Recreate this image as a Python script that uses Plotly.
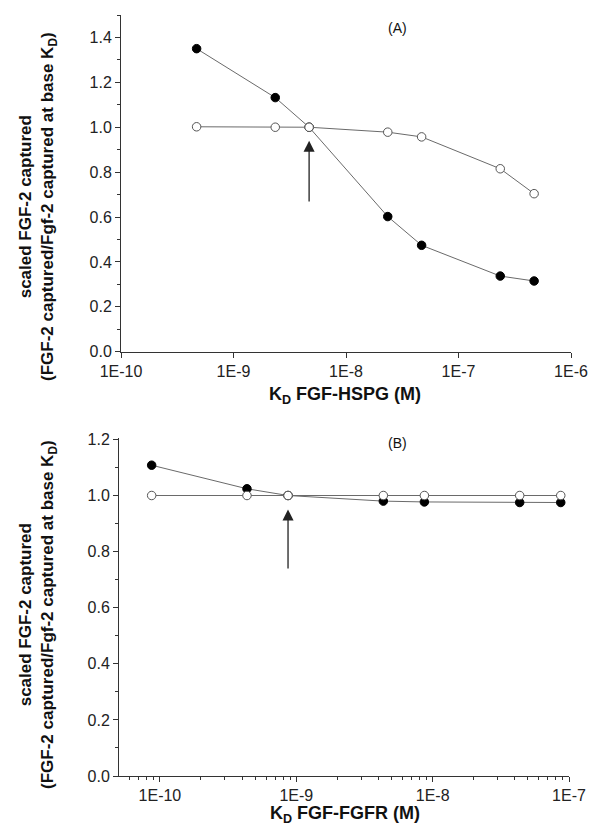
import numpy as np
import plotly.graph_objects as go

# ---------------- data ----------------
# Panel A: K_D FGF-HSPG (M)
kd_hspg = [4.7e-10, 2.35e-9, 4.7e-9, 2.35e-8, 4.7e-8, 2.35e-7, 4.7e-7]
a_filled = [1.35, 1.132, 1.0, 0.602, 0.474, 0.337, 0.315]
a_open = [1.002, 1.0, 1.0, 0.978, 0.957, 0.815, 0.704]

# Panel B: K_D FGF-FGFR (M)
kd_fgfr = [8.7e-11, 4.35e-10, 8.7e-10, 4.35e-9, 8.7e-9, 4.35e-8, 8.7e-8]
b_filled = [1.108, 1.024, 1.0, 0.980, 0.977, 0.975, 0.975]
b_open = [1.0, 1.0, 1.0, 1.0, 1.0, 1.0, 1.0]

base_index = 2  # base K_D (arrow)

a_xtickvals = [1e-10, 1e-9, 1e-8, 1e-7, 1e-6]
a_xticktext = ["1E-10", "1E-9", "1E-8", "1E-7", "1E-6"]
b_xtickvals = [1e-10, 1e-9, 1e-8, 1e-7]
b_xticktext = ["1E-10", "1E-9", "1E-8", "1E-7"]

# arrow extents (data units)
a_arrow = (0.663, 0.94)
b_arrow = (0.734, 0.95)

FONT = "Arial, Liberation Sans, sans-serif"
W, H = 592, 837
LINE = "#6a6a6a"

fig = go.Figure()

def add_series(x, y, filled, xa, ya):
    fig.add_trace(go.Scatter(
        x=x, y=y, mode="lines+markers", xaxis=xa, yaxis=ya,
        line=dict(color=LINE, width=1),
        marker=dict(size=8.5, symbol="circle",
                    color="black" if filled else "white",
                    line=dict(color="black" if filled else "#555555", width=1)),
        showlegend=False, hoverinfo="skip"))

add_series(kd_hspg, a_filled, True, "x", "y")
add_series(kd_hspg, a_open, False, "x", "y")
add_series(kd_fgfr, b_filled, True, "x2", "y2")
add_series(kd_fgfr, b_open, False, "x2", "y2")

def px_x(p):
    return p / W

def px_y(p):
    return 1 - p / H

axis_common = dict(showline=True, linecolor="#333333", linewidth=1, mirror=False,
                   showgrid=False, zeroline=False, ticks="outside", ticklen=5,
                   tickwidth=1, tickcolor="#333333", automargin=False,
                   tickfont=dict(family=FONT, size=16, color="#222222"))

yminor = dict(ticks="outside", ticklen=3, dtick=0.1, tickcolor="#333333", showgrid=False)

fig.update_layout(
    template="none",
    width=W, height=H, margin=dict(l=0, r=0, t=0, b=0, autoexpand=False),
    paper_bgcolor="white", plot_bgcolor="white",
    xaxis=dict(type="log", range=[-10, -6], domain=[px_x(121), px_x(571)],
               anchor="y", tickmode="array", tickvals=a_xtickvals, ticktext=a_xticktext,
               **axis_common),
    yaxis=dict(range=[0, 1.5], domain=[px_y(351.7), px_y(15)], anchor="x",
               tickmode="linear", tick0=0, dtick=0.2, tickformat=".1f",
               minor=yminor, **axis_common),
    xaxis2=dict(type="log", range=[-10.30, -7.0], domain=[px_x(119), px_x(569)],
                anchor="y2", tickmode="array", tickvals=b_xtickvals, ticktext=b_xticktext,
                minor=dict(ticks="outside", ticklen=3, tickcolor="#333333", dtick="D1",
                           showgrid=False),
                **axis_common),
    yaxis2=dict(range=[0, 1.205], domain=[px_y(776), px_y(438)], anchor="x2",
                tickmode="linear", tick0=0, dtick=0.2, tickformat=".1f",
                minor=yminor, **axis_common),
)

# arrows pointing to base K_D
for xr, yr, kd, (lo, hi) in [("x", "y", kd_hspg, a_arrow), ("x2", "y2", kd_fgfr, b_arrow)]:
    lx = float(np.log10(kd[base_index]))
    fig.add_annotation(x=lx, y=hi, ax=lx, ay=lo, xref=xr, yref=yr, axref=xr, ayref=yr,
                       showarrow=True, arrowhead=2, arrowsize=1.7, arrowwidth=1.3,
                       arrowcolor="#222222", text="")

def label(x, y, text, size, angle=0):
    fig.add_annotation(x=px_x(x), y=px_y(y), xref="paper", yref="paper", text=text,
                       xanchor="center", yanchor="middle", textangle=angle,
                       showarrow=False, font=dict(family=FONT, size=size, color="#111111"))

# panel labels
label(397, 28, "(A)", 14)
label(397, 443, "(B)", 14)

# x axis titles
label(345, 395, "<b>K<sub>D</sub> FGF-HSPG (M)</b>", 18)
label(345, 814, "<b>K<sub>D</sub> FGF-FGFR (M)</b>", 18)

# y axis titles
ytitle = "<b>scaled FGF-2 captured<br>(FGF-2 captured/Fgf-2 captured at base K<sub>D</sub>)</b>"
label(38, 207, ytitle, 17, -90)
label(38, 615, ytitle, 17, -90)

fig.write_html("out.html", config={"displayModeBar": False},
               post_script="document.body.style.margin='0';document.body.style.overflow='hidden';")
